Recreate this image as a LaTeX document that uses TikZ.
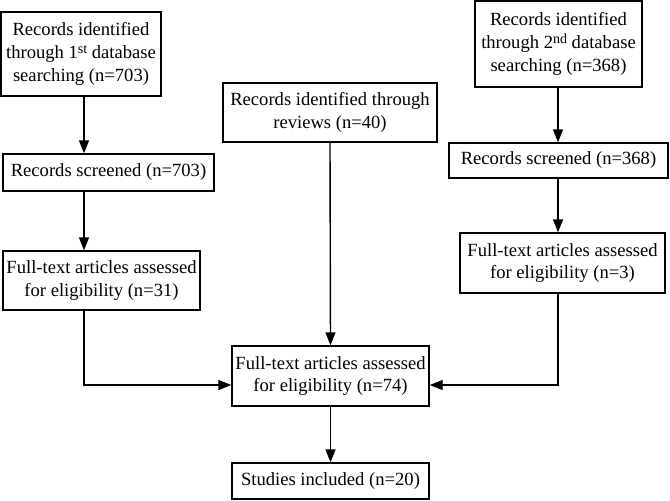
\documentclass[tikz,border=0pt]{standalone}
\usepackage{fontspec}
\setmainfont{Liberation Serif}
\usetikzlibrary{arrows.meta, positioning}

\newcommand{\ordsup}[1]{\raisebox{0.55ex}{\fontsize{7}{7}\selectfont #1}}

\begin{document}
\begin{tikzpicture}[x=0.5pt, y=-0.5pt,
    box/.style={draw, line width=0.7pt, inner sep=0pt, align=center,
                font=\fontsize{9.3}{11.4}\selectfont},
    arr/.style={line width=0.7pt, -{Triangle[length=6.5pt, width=5pt]}}]
    \useasboundingbox (0,0) rectangle (670,500);

    % Fontes de registros
    \node[box, minimum width=80pt, minimum height=42pt] (db1) at (81,54)
        {Records identified\\through 1\ordsup{st} database\\searching (n=703)};
    \node[box, minimum width=83.5pt, minimum height=43pt] (db2) at (558.5,44)
        {Records identified\\through 2\ordsup{nd} database\\searching (n=368)};
    \node[box, minimum width=107pt, minimum height=29.5pt] (rev) at (330,112.5)
        {Records identified through\\reviews (n=40)};

    % Triagem
    \node[box, minimum width=105.5pt, minimum height=18.5pt] (scr1) at (108.5,172.5)
        {Records screened (n=703)};
    \node[box, minimum width=109.5pt, minimum height=17.5pt] (scr2) at (558.5,160.5)
        {Records screened (n=368)};

    % Elegibilidade
    \node[box, minimum width=98.5pt, minimum height=29.5pt] (full1) at (101.5,280.5)
        {Full-text articles assessed\\for eligibility (n=31)};
    \node[box, minimum width=102.5pt, minimum height=30pt] (full2) at (562.5,263)
        {Full-text articles assessed\\for eligibility (n=3)};
    \node[box, minimum width=98.5pt, minimum height=30pt] (fullall) at (330.5,376)
        {Full-text articles assessed\\for eligibility (n=74)};

    % Incluidos
    \node[box, minimum width=98.5pt, minimum height=18pt] (incl) at (330.5,481)
        {Studies included (n=20)};

    % Setas do lado esquerdo
    \draw[arr] (db1.south -| 84,0) -- (scr1.north -| 84,0);
    \draw[arr] (scr1.south -| 84,0) -- (full1.north -| 84,0);
    \draw[arr] (full1.south -| 84,0) |- (fullall.west |- 0,385);

    % Setas do lado direito
    \draw[arr] (db2.south -| 558,0) -- (scr2.north -| 558,0);
    \draw[arr] (scr2.south -| 558,0) -- (full2.north -| 558,0);
    \draw[arr] (full2.south -| 558,0) |- (fullall.east |- 0,385);

    % Setas centrais
    \draw[arr] (rev.south) -- (fullall.north);
    \draw[arr] (fullall.south) -- (incl.north);

\end{tikzpicture}
\end{document}
